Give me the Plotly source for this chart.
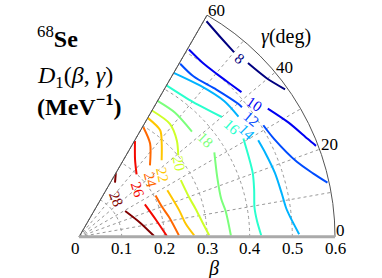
import plotly.graph_objects as go
import math

# ---------------- data ----------------
BETA_MAX = 0.6
GAMMA_MAX = 60

levels = [8, 10, 12, 14, 16, 18, 20, 22, 24, 26, 28]

# contour polylines: beta, gamma(deg); None = gap where the inline label sits
beta_8 = [0.587, 0.574, 0.565, None, 0.568, 0.576, 0.594]
gamma_8 = [59.4, 54.9, 50.0, None, 45.8, 40.2, 35.6]

beta_10 = [0.509, 0.500, 0.500, 0.504, 0.510, None, 0.535, 0.560, 0.583, 0.595]
gamma_10 = [59.6, 54.3, 49.8, 45.4, 41.7, None, 34.2, 28.5, 23.2, 21.0]

beta_12 = [0.470, 0.462, 0.472, 0.486, 0.488, None, 0.505, 0.512, 0.540, 0.569, 0.596]
gamma_12 = [59.7, 54.4, 47.0, 40.0, 38.5, None, 31.2, 26.5, 19.0, 15.1, 12.3]

beta_14 = [0.444, 0.454, 0.466, 0.468, None, 0.477, 0.479, 0.483, 0.486, 0.490, 0.497, 0.516]
gamma_14 = [60.0, 51.4, 43.0, 37.0, None, 28.3, 24.0, 18.0, 12.0, 8.0, 5.4, 0.7]

beta_16 = [0.410, 0.414, 0.437, None, 0.449, 0.434, 0.425, 0.417, 0.419, 0.427]
gamma_16 = [60.0, 49.7, 40.0, None, 30.9, 20.3, 15.0, 9.5, 5.0, 0.5]

beta_18 = [0.368, 0.368, 0.362, None, 0.374, 0.353, 0.345, 0.349, 0.356]
gamma_18 = [60.0, 52.4, 43.0, None, 32.0, 23.4, 15.0, 10.0, 0.5]

beta_20 = [0.342, 0.340, 0.322, 0.301, None, 0.273, 0.274, 0.281, 0.291, 0.305]
gamma_20 = [60.0, 51.2, 44.6, 39.4, None, 29.1, 19.9, 13.6, 6.9, 0.7]

beta_22 = [0.322, 0.314, 0.292, 0.264, None, 0.234, 0.243, 0.252, 0.270]
gamma_22 = [60.0, 52.7, 48.4, 42.8, None, 27.8, 14.8, 7.0, 0.7]

beta_24 = [0.298, 0.275, 0.236, None, 0.204, 0.207, 0.216, 0.234]
gamma_24 = [59.6, 52.7, 45.2, None, 28.4, 19.7, 12.4, 0.9]

beta_26 = [0.260, 0.224, 0.199, None, 0.172, 0.186, 0.206]
gamma_26 = [59.7, 54.1, 47.3, None, 26.2, 11.5, 0.5]

beta_28 = [0.1725, 0.1525, None, 0.124, 0.147, 0.176]
gamma_28 = [60.0, 56.4, None, 29.3, 13.1, 0.6]

contour_beta = [beta_8, beta_10, beta_12, beta_14, beta_16, beta_18,
                beta_20, beta_22, beta_24, beta_26, beta_28]
contour_gamma = [gamma_8, gamma_10, gamma_12, gamma_14, gamma_16, gamma_18,
                 gamma_20, gamma_22, gamma_24, gamma_26, gamma_28]

# inline label positions
label_beta = [0.563, 0.516, 0.490, 0.463, 0.441, 0.374, 0.290, 0.244, 0.213, 0.175, 0.123]
label_gamma = [47.9, 37.2, 34.4, 32.0, 35.7, 37.5, 36.1, 36.6, 38.5, 38.5, 45.4]

radial_tickvals = [0, 0.1, 0.2, 0.3, 0.4, 0.5, 0.6]
radial_ticktext = ["0", "0.1", "0.2", "0.3", "0.4", "0.5", "0.6"]
angular_gridvals = [0, 10, 20, 30, 40, 50, 60]
angular_labelvals = [0, 20, 40, 60]
angular_labeltext = ["0", "20", "40", "60"]

# ---------------- style ----------------
colors = ["#000080", "#0000F3", "#004CFF", "#00B3FF", "#29FFCE", "#7BFF7B",
          "#CEFF29", "#FFC600", "#FF6800", "#F30900", "#800000"]
label_angles = [38, 34, 40, 45, 42, 44, 80, 78, 77, 72, 68]
FONT = "Liberation Serif, DejaVu Serif, Times New Roman, serif"

W, H = 382, 278
ML, MR, MT, MB = 79, 47, 15, 41

fig = go.Figure()

for lv, b, g, c in zip(levels, contour_beta, contour_gamma, colors):
    fig.add_trace(go.Scatterpolar(
        r=b, theta=g, mode="lines", connectgaps=False,
        line=dict(color=c, width=2, shape="spline", smoothing=0.8),
        name=str(lv), showlegend=False, hoverinfo="skip"))

# 60-degree sector edge (frame)
fig.add_trace(go.Scatterpolar(
    r=[0, BETA_MAX], theta=[GAMMA_MAX, GAMMA_MAX], mode="lines",
    line=dict(color="#555555", width=1), showlegend=False, hoverinfo="skip"))

# polar -> paper conversion for text placed on the polar frame
pw = W - ML - MR
ph = H - MT - MB
ar_sector = math.sin(math.radians(GAMMA_MAX))
if ph / pw > ar_sector:
    rad_px = pw
    y_gap = (ph - pw * ar_sector) / 2
else:
    rad_px = ph / ar_sector
    y_gap = 0


def to_paper(beta, gamma):
    r = beta / BETA_MAX * rad_px
    return (r * math.cos(math.radians(gamma)) / pw,
            (y_gap + r * math.sin(math.radians(gamma))) / ph)


def px_to_paper(x, y):
    return (x - ML) / pw, (H - MB - y) / ph


annotations = []
for lv, b, g, c, a in zip(levels, label_beta, label_gamma, colors, label_angles):
    xp, yp = to_paper(b, g)
    annotations.append(dict(x=xp, y=yp, xref="paper", yref="paper",
                            text=str(lv), showarrow=False, textangle=a,
                            xanchor="center", yanchor="middle",
                            font=dict(family=FONT, size=15, color=c)))

# angular tick labels (gamma), just outside the outer arc
for g, t in zip(angular_labelvals, angular_labeltext):
    xp, yp = to_paper(BETA_MAX, g)
    annotations.append(dict(x=xp, y=yp, xref="paper", yref="paper", text=t,
                            showarrow=False, xanchor="left", yanchor="bottom",
                            yshift=(-5 if g == 0 else -7), xshift=-1,
                            font=dict(family=FONT, size=17, color="black")))

# radial tick labels (beta), below the baseline
for b, t in zip(radial_tickvals, radial_ticktext):
    xp, yp = to_paper(b, 0)
    annotations.append(dict(x=xp, y=yp, xref="paper", yref="paper", text=t,
                            showarrow=False, xanchor="center", yanchor="middle",
                            yshift=-12, xshift=(-4 if b == 0 else 0),
                            font=dict(family=FONT, size=17, color="black")))

# title texts
for txt, (x, y), size, anchor in [
    ("<sup>68</sup><b>Se</b>", (35, 37), 24, "left"),
    ("<i>D</i><sub>1</sub>(<i>β</i>, <i>γ</i>)", (35, 77), 24, "left"),
    ("<b>(MeV<sup>−1</sup>)</b>", (35, 105), 24, "left"),
    ("<i>γ</i>(deg)", (286, 36), 20, "center"),
    ("<i>β</i>", (213, 268), 20, "center"),
]:
    xp, yp = px_to_paper(x, y)
    annotations.append(dict(x=xp, y=yp, xref="paper", yref="paper", text=txt,
                            showarrow=False, xanchor=anchor, yanchor="middle",
                            font=dict(family=FONT, size=size, color="black")))

fig.update_layout(
    width=W, height=H,
    margin=dict(l=ML, r=MR, t=MT, b=MB, pad=0),
    paper_bgcolor="white",
    showlegend=False,
    font=dict(family=FONT),
    annotations=annotations,
    polar=dict(
        sector=[0, GAMMA_MAX],
        bgcolor="white",
        domain=dict(x=[0, 1], y=[0, 1]),
        radialaxis=dict(
            range=[0, BETA_MAX], angle=0, side="clockwise",
            tickvals=radial_tickvals, showticklabels=False,
            showline=True, linecolor="#aaaaaa", linewidth=3,
            ticks="", showgrid=True, gridcolor="#999999",
            griddash="dot", gridwidth=1),
        angularaxis=dict(
            direction="counterclockwise", rotation=0,
            tickvals=angular_gridvals, showticklabels=False,
            showline=True, linecolor="#555555", linewidth=1,
            ticks="", showgrid=True, gridcolor="#999999", griddash="dot",
            gridwidth=1),
    ),
)

fig.write_html("out.html", config={"displayModeBar": False},
               post_script="document.body.style.margin='0';")
